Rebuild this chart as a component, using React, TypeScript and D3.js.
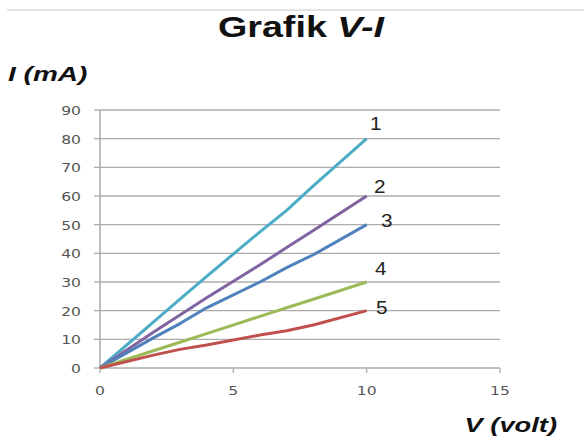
import React from "react";
import * as d3 from "d3";

const voltages = [0, 2, 3, 4, 6, 7, 8, 10];
const series1 = [0, 16, 24, 32, 47.5, 55, 63.5, 80];
const series2 = [0, 12.5, 18.5, 24.5, 36, 42, 48, 60];
const series3 = [0, 10.5, 15.5, 21, 30, 35, 39.5, 50];
const series4 = [0, 6, 9, 12, 18, 21, 24, 30];
const series5 = [0, 4.5, 6.5, 8, 11.5, 13, 15, 20];
const seriesNames = ["1", "2", "3", "4", "5"];
const colors = ["#4BACC6", "#8064A2", "#4F81BD", "#9BBB59", "#C0504D"];
const yTicks = [0, 10, 20, 30, 40, 50, 60, 70, 80, 90];
const xTicks = [0, 5, 10, 15];
const labelOffsets = [
  [9, -9],
  [13, -3],
  [20, 2],
  [14, -7],
  [15, 3],
];

function SText(props: any) {
  const { x, y, sx = 1.3, anchor = "start", children, ...rest } = props;
  return (
    <text transform={`translate(${x},${y}) scale(${sx},1)`} textAnchor={anchor} {...rest}>
      {children}
    </text>
  );
}

export default function App() {
  const W = 584, H = 437;
  const x = d3.scaleLinear().domain([0, 15]).range([100, 500]);
  const y = d3.scaleLinear().domain([0, 90]).range([368, 110]);
  const all = [series1, series2, series3, series4, series5];
  const line = d3
    .line<number>()
    .x((_, i) => x(voltages[i]))
    .y((d) => y(d));
  const font = "'Liberation Sans', Arial, sans-serif";
  return (
    <svg
      width={W}
      height={H}
      style={{ position: "absolute", left: 0, top: 0, background: "#fff" }}
      fontFamily={font}
    >
      <line x1={7} x2={584} y1={10} y2={10} stroke="#c8c8c8" strokeWidth={1} />
      <SText x={301} y={37} sx={1.3} anchor="middle" fontSize={29} fontWeight="bold" fill="#111">
        Grafik <tspan fontStyle="italic">V-I</tspan>
      </SText>
      <SText x={8} y={81} sx={1.4} fontSize={20} fontWeight="bold" fontStyle="italic" fill="#111">
        I (mA)
      </SText>
      <SText x={557} y={432} sx={1.3} anchor="end" fontSize={21} fontWeight="bold" fontStyle="italic" fill="#111">
        V (volt)
      </SText>
      {yTicks.map((t) => (
        <g key={"y" + t}>
          {t > 0 && (
            <line x1={x(0)} x2={x(15)} y1={y(t)} y2={y(t)} stroke="#acacac" strokeWidth={1.3} />
          )}
          <line x1={94} x2={x(0)} y1={y(t)} y2={y(t)} stroke="#acacac" strokeWidth={1.3} />
          <SText x={81} y={y(t) + 5} sx={1.25} anchor="end" fontSize={12.5} fill="#555" fontFamily="'DejaVu Sans', sans-serif">
            {t}
          </SText>
        </g>
      ))}
      <line x1={x(0)} x2={x(0)} y1={y(90)} y2={y(0)} stroke="#acacac" strokeWidth={1.6} />
      <line x1={x(0)} x2={x(15)} y1={y(0)} y2={y(0)} stroke="#acacac" strokeWidth={1.6} />
      {xTicks.map((t) => (
        <g key={"x" + t}>
          <line x1={x(t)} x2={x(t)} y1={y(0)} y2={y(0) + 5} stroke="#acacac" strokeWidth={1.3} />
          <SText x={x(t)} y={y(0) + 27} sx={1.25} anchor="middle" fontSize={12.5} fill="#555" fontFamily="'DejaVu Sans', sans-serif">
            {t}
          </SText>
        </g>
      ))}
      {all.map((s, i) => (
        <path key={"s" + i} d={line(s) || ""} fill="none" stroke={colors[i]} strokeWidth={3} strokeLinejoin="round" />
      ))}
      {all.map((s, i) => (
        <SText
          key={"l" + i}
          x={x(voltages[voltages.length - 1]) + labelOffsets[i][0]}
          y={y(s[s.length - 1]) + labelOffsets[i][1]}
          sx={1.15}
          anchor="middle"
          fontSize={18}
          fill="#222"
        >
          {seriesNames[i]}
        </SText>
      ))}
    </svg>
  );
}
